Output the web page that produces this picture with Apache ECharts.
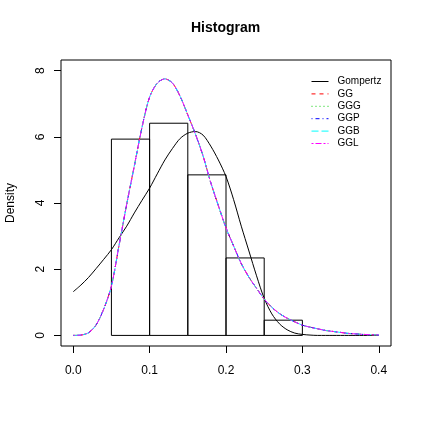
<!DOCTYPE html>
<html>
<head>
<meta charset="utf-8">
<script src="https://cdn.jsdelivr.net/npm/echarts@6/dist/echarts.min.js"></script>
<style>
  html, body { margin: 0; padding: 0; background: #fff; }
  #chart { width: 422px; height: 422px; }
</style>
</head>
<body>
<div id="chart"></div>
<script>
  // histogram bins
  var binStart = [0.05, 0.10, 0.15, 0.20, 0.25];
  var binEnd = [0.10, 0.15, 0.20, 0.25, 0.30];
  var density = [5.93, 6.41, 4.85, 2.34, 0.46];

  // fitted densities, read at x = 0, 0.01, ..., 0.4
  var xs = [0, 0.01, 0.02, 0.03, 0.04, 0.05, 0.06, 0.07, 0.08, 0.09,
    0.10, 0.11, 0.12, 0.13, 0.14, 0.15, 0.16, 0.17, 0.18, 0.19,
    0.20, 0.21, 0.22, 0.23, 0.24, 0.25, 0.26, 0.27, 0.28, 0.29,
    0.30, 0.31, 0.32, 0.33, 0.34, 0.35, 0.36, 0.37, 0.38, 0.39, 0.40];
  var gompertz = [1.32, 1.52, 1.75, 2.02, 2.30, 2.59, 2.95, 3.30, 3.70, 4.08,
    4.45, 4.88, 5.30, 5.65, 5.95, 6.11, 6.16, 6.05, 5.72, 5.30,
    4.80, 4.10, 3.30, 2.55, 1.80, 1.12, 0.65, 0.35, 0.17, 0.07,
    0.03, 0.01, 0, 0, 0, 0, 0, 0, 0, 0, 0];
  var ggFamily = [0, 0.01, 0.08, 0.32, 0.80, 1.49, 2.72, 3.96, 5.12, 6.28,
    7.20, 7.62, 7.75, 7.62, 7.22, 6.66, 6.08, 5.42, 4.62, 3.92,
    3.25, 2.70, 2.17, 1.76, 1.42, 1.10, 0.85, 0.66, 0.52, 0.41,
    0.31, 0.25, 0.20, 0.15, 0.12, 0.09, 0.06, 0.045, 0.03, 0.02, 0.015];

  var seriesNames = ['Gompertz', 'GG', 'GGG', 'GGP', 'GGB', 'GGL'];
  var xTicks = [0, 0.1, 0.2, 0.3, 0.4];
  var yTicks = [0, 2, 4, 6, 8];

  var font = 'Liberation Sans, Arial, sans-serif';

  function pairs(ys) {
    return xs.map(function (x, i) { return [x, ys[i]]; });
  }

  // R line types: solid, dashed, dotted, dotdash, longdash, twodash
  var lineDefs = [
    { color: '#000000', type: 'solid', data: gompertz },
    { color: '#FF0000', type: [4, 4], data: ggFamily },
    { color: '#00CD00', type: [1, 3], data: ggFamily },
    { color: '#0000FF', type: [1, 3, 4, 3], data: ggFamily },
    { color: '#00FFFF', type: [7, 3], data: ggFamily },
    { color: '#FF00FF', type: [2, 2, 6, 2], data: ggFamily }
  ];

  var series = [{
    type: 'custom',
    silent: true,
    data: binStart.map(function (s, i) { return [s, binEnd[i], density[i]]; }),
    encode: { x: [0, 1], y: 2 },
    renderItem: function (params, api) {
      var p0 = api.coord([api.value(0), api.value(2)]);
      var p1 = api.coord([api.value(1), 0]);
      return {
        type: 'rect',
        shape: { x: p0[0], y: p0[1], width: p1[0] - p0[0], height: p1[1] - p0[1] },
        style: { fill: 'none', stroke: '#000', lineWidth: 1 }
      };
    }
  }];

  lineDefs.forEach(function (d, i) {
    series.push({
      name: seriesNames[i],
      type: 'line',
      data: pairs(d.data),
      showSymbol: false,
      symbol: 'none',
      smooth: 0.3,
      color: d.color,
      lineStyle: { color: d.color, width: 1, type: d.type },
      z: 3 + i
    });
  });

  var legendItems = seriesNames.map(function (n, i) {
    return {
      name: n,
      itemStyle: { opacity: 0 },
      lineStyle: { color: lineDefs[i].color, width: 1, type: lineDefs[i].type }
    };
  });

  var myChart = echarts.init(document.getElementById('chart'));

  var option = {
    animation: false,
    backgroundColor: '#fff',
    title: {
      text: 'Histogram',
      left: 191,
      top: 21,
      padding: 0,
      textStyle: { fontFamily: font, fontSize: 14, fontWeight: 'bold', color: '#000' }
    },
    legend: {
      data: legendItems,
      orient: 'vertical',
      left: 311,
      top: 76.5,
      padding: 0,
      itemWidth: 17,
      itemHeight: 11,
      itemGap: 2.4,
      textStyle: { fontFamily: font, fontSize: 10, color: '#000', padding: [0, 0, 0, 4] }
    },
    grid: {
      left: 61,
      top: 60,
      width: 330,
      height: 286,
      containLabel: false,
      outerBoundsMode: 'none',
      show: true,
      borderColor: '#000',
      borderWidth: 1,
      backgroundColor: 'transparent'
    },
    xAxis: {
      type: 'value',
      min: -0.016,
      max: 0.416,
      axisLine: { show: false, onZero: false },
      splitLine: { show: false },
      axisTick: { show: true, length: 7, lineStyle: { color: '#000' }, customValues: xTicks },
      axisLabel: {
        customValues: xTicks,
        margin: 19,
        fontFamily: font,
        fontSize: 12,
        color: '#000',
        formatter: function (v) { return v.toFixed(1); }
      }
    },
    yAxis: {
      type: 'value',
      min: -0.32,
      max: 8.32,
      name: 'Density',
      nameLocation: 'middle',
      nameRotate: 90,
      nameGap: 44,
      nameTextStyle: { fontFamily: font, fontSize: 12, color: '#000' },
      axisLine: { show: false, onZero: false },
      splitLine: { show: false },
      axisTick: { show: true, length: 7, lineStyle: { color: '#000' }, customValues: yTicks },
      axisLabel: {
        customValues: yTicks,
        rotate: 90,
        margin: 14,
        fontFamily: font,
        fontSize: 12,
        color: '#000'
      }
    },
    series: series
  };

  myChart.setOption(option);
</script>
</body>
</html>
